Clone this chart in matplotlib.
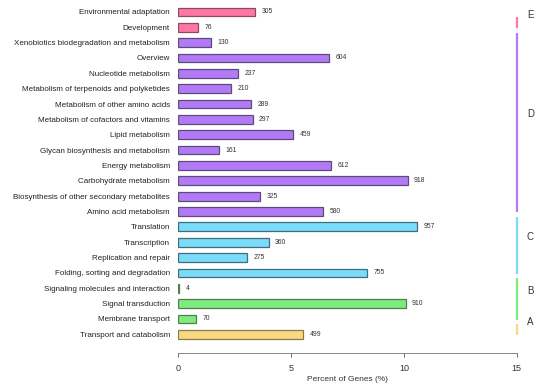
import matplotlib
matplotlib.use("Agg")
import matplotlib.pyplot as plt
import numpy as np

plt.rcParams['font.family'] = ['Liberation Sans', 'DejaVu Sans']

# rows listed bottom -> top
pathways = ["Transport and catabolism", "Membrane transport", "Signal transduction",
            "Signaling molecules and interaction", "Folding, sorting and degradation",
            "Replication and repair", "Transcription", "Translation",
            "Amino acid metabolism", "Biosynthesis of other secondary metabolites",
            "Carbohydrate metabolism", "Energy metabolism",
            "Glycan biosynthesis and metabolism", "Lipid metabolism",
            "Metabolism of cofactors and vitamins", "Metabolism of other amino acids",
            "Metabolism of terpenoids and polyketides", "Nucleotide metabolism",
            "Overview", "Xenobiotics biodegradation and metabolism",
            "Development", "Environmental adaptation"]
percent = [5.54, 0.80, 10.08, 0.05, 8.37, 3.06, 4.01, 10.60,
           6.43, 3.62, 10.17, 6.79, 1.80, 5.09, 3.30, 3.22, 2.35, 2.65,
           6.70, 1.45, 0.87, 3.40]
counts = [499, 70, 910, 4, 755, 275, 360, 957,
          580, 325, 918, 612, 161, 459, 297, 289, 210, 237,
          604, 130, 76, 305]
group = ["A", "B", "B", "B", "C", "C", "C", "C",
         "D", "D", "D", "D", "D", "D", "D", "D", "D", "D",
         "D", "D", "E", "E"]
# span of the bracket line on the right (row index, as in the original)
group_span = {"A": (0, 0), "B": (1, 3), "C": (4, 7), "D": (8, 19), "E": (20, 20)}

fill = {"A": "#F8D880", "B": "#7DEB7D", "C": "#7ADCF8", "D": "#B27BF5", "E": "#FF77A3"}
edge = {"A": "#8a7a50", "B": "#4f7f4f", "C": "#3f6f7f", "D": "#5f4a7f", "E": "#8f4a5f"}

fig = plt.figure(figsize=(5.5, 3.9), dpi=100)
ax = fig.add_axes([0.324, 0.094, 0.6155, 0.903])

y = np.arange(len(pathways))
ax.barh(y, percent, height=0.57,
        color=[fill[g] for g in group], edgecolor=[edge[g] for g in group], linewidth=0.9)

for yi, p, c in zip(y, percent, counts):
    ax.text(p + 0.28, yi, str(c), fontsize=4.9, color="#333333", va="center", ha="left")

for g, (lo, hi) in group_span.items():
    ax.plot([15, 15], [lo - 0.05, hi + 0.65], color=fill[g], lw=1.6, clip_on=False,
            solid_capstyle="butt")
    ax.text(15.6, (lo + hi + 0.65) / 2 + 0.5, g, fontsize=7, color="#333333",
            ha="center", va="center")

ax.set_xlim(0, 15)
ax.set_ylim(-1.24, 21.7)
ax.set_yticks(y)
ax.set_yticklabels(pathways, fontsize=5.8, color="#222222")
ax.tick_params(axis="y", length=0, pad=6)
ax.set_xticks([0, 5, 10, 15])
ax.tick_params(axis="x", labelsize=6.5, length=3, width=0.6, color="#555555",
               labelcolor="#333333", pad=5)
ax.set_xlabel("Percent of Genes (%)", fontsize=6, color="#333333", labelpad=2)
for s in ["top", "right", "left"]:
    ax.spines[s].set_visible(False)
ax.spines["bottom"].set_color("#777777")
ax.spines["bottom"].set_linewidth(0.6)

fig.savefig("out.png", dpi=100)
